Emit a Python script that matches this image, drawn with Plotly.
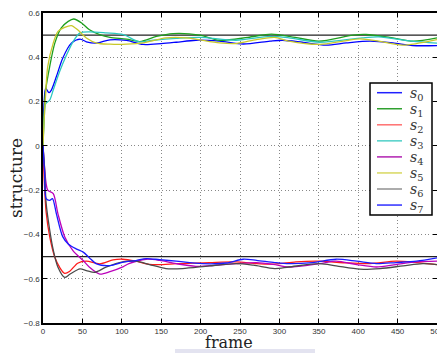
import plotly.graph_objects as go

# ---- data ----
names = ["s0", "s1", "s2", "s3", "s4", "s5", "s6", "s7"]
colors = ["#0000ff", "#1f9f1f", "#ff1a1a", "#2cc8c0", "#bb00bb", "#c8c82a", "#4a4a4a", "#1a1aff"]
legend_colors = ["#2020ff", "#30a030", "#ff7070", "#50d0c8", "#b020b0", "#d8d860", "#909090", "#3030ff"]

f_s0 = [0, 1.5, 3.4, 7.6, 10.6, 17, 25, 36, 47, 55, 68, 85, 106, 127, 150, 169, 194, 224, 254, 288, 304, 329, 359, 385, 415, 444, 469, 500]
v_s0 = [0, 0.2, 0.26, 0.24, 0.252, 0.313, 0.396, 0.464, 0.482, 0.47, 0.464, 0.479, 0.476, 0.458, 0.462, 0.468, 0.477, 0.473, 0.46, 0.473, 0.477, 0.468, 0.455, 0.465, 0.473, 0.465, 0.453, 0.453]

f_s1 = [0, 1.5, 3.4, 8.5, 15, 23, 32, 39, 49, 59, 72, 85, 106, 123, 144, 165, 199, 224, 260, 290, 320, 350, 393, 410, 440, 470, 500]
v_s1 = [0, 0.15, 0.252, 0.358, 0.464, 0.532, 0.562, 0.573, 0.555, 0.524, 0.502, 0.49, 0.482, 0.471, 0.494, 0.507, 0.5, 0.477, 0.49, 0.505, 0.49, 0.473, 0.5, 0.503, 0.49, 0.473, 0.488]

f_s2 = [0, 1.5, 4, 8.5, 15, 21, 27.5, 34, 44, 55, 72, 89, 101, 118, 135, 152, 169, 211, 245, 271, 294, 321, 351, 381, 415, 448, 474, 500]
v_s2 = [0, -0.15, -0.3, -0.41, -0.503, -0.548, -0.576, -0.566, -0.53, -0.521, -0.533, -0.515, -0.512, -0.521, -0.535, -0.536, -0.532, -0.527, -0.524, -0.532, -0.534, -0.524, -0.521, -0.528, -0.532, -0.521, -0.527, -0.536]

f_s3 = [0, 1.5, 3.4, 8.5, 13, 21, 30, 38, 47, 59, 80, 102, 122, 140, 169, 199, 245, 288, 312, 351, 405, 426, 468, 500]
v_s3 = [0, 0.12, 0.19, 0.207, 0.252, 0.335, 0.411, 0.47, 0.51, 0.515, 0.51, 0.502, 0.47, 0.477, 0.485, 0.49, 0.477, 0.494, 0.488, 0.468, 0.488, 0.492, 0.473, 0.464]

f_s4 = [0, 2, 6, 13, 19, 27.5, 38, 51, 59, 72, 85, 102, 109, 131, 148, 169, 194, 220, 245, 271, 292, 312, 351, 372, 398, 423, 448, 474, 500]
v_s4 = [0, -0.1, -0.2, -0.216, -0.307, -0.41, -0.473, -0.518, -0.548, -0.579, -0.568, -0.545, -0.532, -0.512, -0.517, -0.532, -0.544, -0.539, -0.532, -0.527, -0.535, -0.547, -0.532, -0.521, -0.536, -0.547, -0.536, -0.524, -0.521]

f_s5 = [0, 1.5, 3.4, 6, 13, 19, 27.5, 36, 44, 55, 68, 85, 106, 127, 156, 182, 224, 245, 271, 294, 312, 351, 381, 402, 426, 456, 500]
v_s5 = [0, 0.12, 0.237, 0.358, 0.464, 0.517, 0.535, 0.543, 0.524, 0.487, 0.464, 0.459, 0.459, 0.465, 0.488, 0.488, 0.465, 0.462, 0.48, 0.49, 0.473, 0.458, 0.473, 0.483, 0.473, 0.455, 0.48]

f_s6 = [0, 2, 4, 8.5, 13, 19, 27.5, 34, 47, 55, 66, 80, 101, 118, 135, 156, 177, 211, 245, 267, 294, 312, 351, 372, 402, 428, 457, 482, 500]
v_s6 = [0, -0.1, -0.26, -0.38, -0.47, -0.548, -0.594, -0.58, -0.556, -0.563, -0.571, -0.548, -0.524, -0.521, -0.536, -0.554, -0.554, -0.542, -0.532, -0.539, -0.554, -0.547, -0.532, -0.542, -0.557, -0.554, -0.542, -0.532, -0.536]

f_s7 = [0, 2, 4, 8.5, 12, 17, 25, 32, 42, 51, 59, 68, 85, 102, 118, 131, 148, 169, 202, 233, 254, 271, 294, 312, 342, 372, 398, 423, 448, 474, 500]
v_s7 = [0, -0.12, -0.238, -0.246, -0.238, -0.307, -0.41, -0.443, -0.465, -0.48, -0.506, -0.533, -0.541, -0.525, -0.518, -0.509, -0.514, -0.521, -0.532, -0.529, -0.512, -0.517, -0.527, -0.532, -0.527, -0.512, -0.521, -0.532, -0.527, -0.521, -0.506]

frames = [f_s0, f_s1, f_s2, f_s3, f_s4, f_s5, f_s6, f_s7]
values = [v_s0, v_s1, v_s2, v_s3, v_s4, v_s5, v_s6, v_s7]

targets = [0.5, -0.5]
x_ticks = [0, 50, 100, 150, 200, 250, 300, 350, 400, 450, 500]
y_ticks = [-0.8, -0.6, -0.4, -0.2, 0, 0.2, 0.4, 0.6]
y_tick_text = ["−0.8", "−0.6", "−0.4", "−0.2", "0", "0.2", "0.4", "0.6"]

# ---- layout geometry (pixels) ----
W, H = 437, 353
L, R, T, B = 43, 0, 13, 30
PW, PH = W - L - R, H - T - B


def px(xpix):
    return (xpix - L) / PW


def py(ypix):
    return (H - B - ypix) / PH


fig = go.Figure()
for n, fx, vy, c in zip(names, frames, values, colors):
    fig.add_trace(go.Scatter(
        x=fx, y=vy, mode="lines", name=n, showlegend=False,
        line=dict(color=c, width=1.3, shape="spline", smoothing=0.8),
    ))

shapes = []
for t in targets:
    shapes.append(dict(type="line", xref="paper", x0=0, x1=1, yref="y", y0=t, y1=t,
                       line=dict(color="#222222", width=1.3), layer="below"))

serif = "DejaVu Serif, Liberation Serif, serif"
tickfont = dict(family="Liberation Sans, Arial, sans-serif", size=8, color="#333333")
grid_dash = "1px,2.5px"

# faint band behind the x title (as in the reference picture)
shapes.append(dict(type="rect", xref="paper", yref="paper", x0=px(175), x1=px(315),
                   y0=py(349), y1=py(356), fillcolor="#dcdcec",
                   line=dict(width=0), layer="below", opacity=0.8))

# custom legend box
shapes.append(dict(type="rect", xref="paper", yref="paper", x0=px(370), x1=px(432),
                   y0=py(215), y1=py(83), fillcolor="white",
                   line=dict(color="black", width=1.5), layer="above"))
annotations = []
row0, step = 92.7, 16.05
for i, (n, lc) in enumerate(zip(names, legend_colors)):
    yy = row0 + i * step
    shapes.append(dict(type="line", xref="paper", yref="paper", x0=px(377), x1=px(402),
                       y0=py(yy), y1=py(yy), line=dict(color=lc, width=1.5), layer="above"))
    annotations.append(dict(text=f"<i>s</i><sub>{n[1:]}</sub>", xref="paper", yref="paper",
                            x=px(408), y=py(yy + 1), xanchor="left", yanchor="middle",
                            showarrow=False,
                            font=dict(family=serif, size=14, color="#333333")))

annotations += [
    dict(text="frame", xref="paper", yref="paper", x=px(229), y=py(342.5),
         xanchor="center", yanchor="middle", showarrow=False,
         font=dict(family=serif, size=16, color="#222222")),
    dict(text="structure", xref="paper", yref="paper", x=px(16), y=py(178),
         xanchor="center", yanchor="middle", showarrow=False, textangle=-90,
         font=dict(family=serif, size=17, color="#222222")),
]

fig.update_layout(
    width=W, height=H,
    margin=dict(l=L, r=R, t=T, b=B, autoexpand=False),
    paper_bgcolor="white", plot_bgcolor="white",
    showlegend=False,
    xaxis=dict(
        range=[0, 500], tickvals=x_ticks, ticks="inside", ticklen=4, tickcolor="black",
        showline=True, linecolor="black", linewidth=1.5, mirror="ticks",
        showgrid=True, gridcolor="#888888", griddash=grid_dash, gridwidth=1,
        zeroline=False, tickfont=tickfont, automargin=False, ticklabeloverflow="allow",
    ),
    yaxis=dict(
        range=[-0.8, 0.6], tickvals=y_ticks, ticktext=y_tick_text, ticks="inside", ticklen=4,
        tickcolor="black", showline=True, linecolor="black", linewidth=1.5, mirror="ticks",
        showgrid=True, gridcolor="#888888", griddash=grid_dash, gridwidth=1,
        zeroline=False, tickfont=tickfont, automargin=False, ticklabeloverflow="allow",
    ),
    annotations=annotations,
    shapes=shapes,
)

fig.write_html("out.html")
